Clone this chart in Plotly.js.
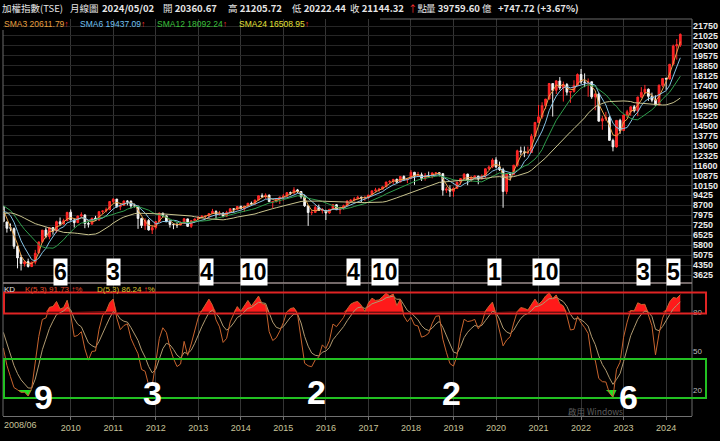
<!DOCTYPE html>
<html><head><meta charset="utf-8">
<script src="https://cdn.plot.ly/plotly-3.0.1.min.js"></script>
<style>html,body{margin:0;padding:0;background:#000;}#chart{width:720px;height:441px;}</style>
</head><body><div id="chart"></div>
<script>
// ---- Monthly TAIEX candles 2008/06 .. 2024/05 ----
const open = [
 8620,7480,7050,7000,5700,4900,4430,
 4600,4240,4560,5230,6050,6900,6420,7080,6820,7500,7330,7580,
 8200,7620,7440,7930,8000,7370,7330,7770,7620,8240,8290,8380,
 8980,9150,8600,8690,9010,8990,8650,8640,7740,7220,7590,6900,
 7080,7520,8120,7930,7500,7300,7290,7270,7390,7710,7170,7580,
 7710,7850,7900,7920,8100,8250,8060,8110,7910,8170,8450,8400,
 8620,8460,8640,8850,8790,9080,9400,9310,9440,8960,8980,9190,
 9300,9360,9620,9590,9820,9700,9320,8660,8170,8180,8550,8320,
 8330,8140,8410,8740,8370,8540,8670,9000,9070,9170,9290,9240,
 9260,9450,9760,9810,9880,10050,10400,10430,10590,10390,10800,10560,
 10660,11100,10820,10920,10650,10870,10830,11060,11070,11000,9800,9890,
 9720,9930,10390,10640,10970,10500,10730,10820,10620,10830,11360,11490,
 12000,11480,11290,9700,10990,10950,11620,12660,12590,12520,12540,13720,
 14730,15140,15950,16430,17560,17070,17750,17250,17490,16930,16990,17430,
 18220,17670,17650,17690,16590,16800,14830,15000,15090,13420,12950,14880,
 14140,15270,15500,15870,15580,16580,16920,17150,16630,16350,16000,17430,
 17930,17890,18970,20290,20361];
const high = [
 8656,7521,7376,7084,5773,5100,4700,
 4817,4600,5454,6050,6890,7084,7078,7102,7580,7811,7722,8188,
 8395,7700,7950,8190,8030,7575,7789,7930,8240,8316,8530,8973,
 9220,9164,8800,9050,9062,9060,8820,8650,7800,7750,7700,7230,
 7543,8180,8170,7960,7620,7390,7500,7530,7780,7730,7580,7740,
 7900,7978,7950,8100,8440,8340,8290,8210,8300,8470,8460,8650,
 8680,8660,8870,8970,9110,9400,9570,9570,9480,9000,9200,9307,
 9520,9660,9700,10014,9890,9720,9470,8700,8340,8700,8750,8500,
 8350,8430,8790,8790,8560,8750,9060,9140,9290,9400,9330,9390,
 9450,9770,9970,9970,10070,10400,10530,10620,10640,10800,10880,10650,
 11270,11130,11130,11080,11050,11150,11090,11100,11100,11050,10050,10150,
 10010,10410,10680,11030,11000,10820,10890,10850,10950,11370,11600,12120,
 12197,11880,11430,10997,11060,11640,12750,12970,12980,12970,13900,14760,
 16000,16200,16440,17600,17600,17800,18034,17700,17600,17000,17800,18300,
 18620,18300,17930,17700,16810,16900,15200,15500,15200,13550,14880,15000,
 15300,15650,15900,16000,16600,17300,17463,17200,16900,16700,17500,17950,
 18000,18980,20400,20800,21206];
const low = [
 7467,6710,6809,5530,4110,3955,4235,
 4164,4200,4400,5230,5970,6300,6225,6561,6690,7200,7312,7545,
 7600,7080,7400,7800,7032,7080,7290,7580,7600,8070,8180,8360,
 8830,8500,8350,8660,8700,8470,8540,6985,7042,6910,6856,6609,
 6944,7480,7850,7500,7076,6960,7050,7230,7340,7140,7050,7550,
 7680,7760,7740,7770,8080,7660,7960,7820,7860,8150,8170,8350,
 8420,8230,8580,8750,8780,9060,9270,9170,8940,8500,8900,8790,
 9030,9340,9450,9550,9600,9180,8580,7203,7990,8160,8290,8100,
 7627,8080,8370,8370,8053,8370,8640,8960,8990,9160,8900,9020,
 9160,9430,9680,9680,9860,10010,10330,10230,10320,10380,10480,10310,
 10650,10190,10750,10470,10500,10740,10660,10860,10800,9400,9600,9320,
 9319,9880,10190,10620,10160,10400,10700,10230,10600,10690,11270,11400,
 11400,11200,8523,9500,10500,10930,11500,12350,12200,12420,12540,13690,
 14730,15000,15700,16400,15160,16800,17100,16250,16700,16160,16900,17400,
 17530,17300,16600,16450,15616,14800,14200,14850,13400,12629,12900,13900,
 14100,15050,15220,15450,15190,16500,16800,16300,16200,15970,16000,17300,
 17100,17850,18900,19300,20222];
const close = [
 7523,7024,7046,5719,4870,4460,4591,
 4248,4557,5210,6033,6890,6432,7078,6826,7509,7340,7582,8188,
 7640,7436,7920,8004,7374,7329,7760,7616,8238,8287,8372,8973,
 9146,8600,8683,9008,8988,8653,8644,7741,7225,7588,6904,7072,
 7517,8121,7933,7501,7301,7296,7270,7397,7715,7166,7580,7699,
 7850,7897,7919,8093,8254,8062,8108,7914,8173,8450,8406,8612,
 8462,8640,8849,8792,9075,9393,9315,9436,8966,8974,9187,9307,
 9361,9622,9586,9820,9701,9323,8665,8174,8181,8554,8320,8338,
 8145,8411,8744,8377,8536,8667,9007,9068,9166,9290,9240,9254,
 9448,9750,9812,9872,10041,10395,10427,10586,10384,10794,10560,10643,
 11104,10815,10919,10658,10875,10837,11057,11063,11006,9802,9889,9727,
 9932,10389,10641,10968,10498,10731,10824,10618,10829,11358,11490,11997,
 11495,11292,9708,10993,10943,11621,12665,12592,12516,12546,13722,14733,
 15138,15953,16431,17567,17068,17755,17247,17490,16935,16987,17428,18219,
 17674,17652,17693,16593,16808,14826,15000,15095,13425,12950,14880,14138,
 15265,15504,15868,15580,16579,16916,17145,16634,16354,16001,17433,17931,
 17890,18966,20294,20397,21144];
// closes 2006/07 .. 2008/05 (moving-average history before the first bar)
const preClose = [6455,6611,6883,7021,7260,7823,7700,7902,7884,7875,8145,8883,
 9287,8982,9411,9711,8586,8506,7521,8413,8572,8920,8619];
// highs / lows 2008/02 .. 2008/05 (KD history before the first bar)
const preHigh = [8460,8700,9000,9309];
const preLow  = [7400,7960,8400,8580];

const priceTicks = [3625,4350,5075,5800,6525,7250,7975,8700,9425,10150,10875,11600,12325,
 13050,13775,14500,15225,15950,16675,17400,18125,18850,19575,20300,21025,21750];
const priceLabels = ['3625','4350','5075','5800','6525','7250','7975','8700','9425','10150','10875','11600','12325',
 '13050','13775','14500','15225','15950','16675','17400','18125','18850','19575','20300','21025','21750'];
const yearTickIdx = [19,31,43,55,67,79,91,103,115,127,139,151,163,175,187];
const yearLabels = ['2010','2011','2012','2013','2014','2015','2016','2017','2018','2019','2020','2021','2022','2023','2024'];
const kdTicks = [20,50,80];
const smaPeriods = [3,6,12,24];
const smaColors = ['#e8a048','#86c4e6','#2f9e4c','#c9c48e'];
const KD_N = 5;

// ---- derived series ----
const xi = close.map((_, i) => i);
const allClose = preClose.concat(close);
const off = preClose.length;
function sma(n){
  return close.map((_, i) => {
    const j = i + off; if (j - n + 1 < 0) return null;
    let s = 0; for (let k = j - n + 1; k <= j; k++) s += allClose[k];
    return s / n;
  });
}
const kdH = preHigh.concat(high), kdL = preLow.concat(low), kdC = preClose.slice(-preHigh.length).concat(close);
let K = 50, D = 50; const kArr = [], dArr = [];
for (let j = 0; j < kdC.length; j++){
  let hh = -Infinity, ll = Infinity;
  for (let k = Math.max(0, j - KD_N + 1); k <= j; k++){ hh = Math.max(hh, kdH[k]); ll = Math.min(ll, kdL[k]); }
  const rsv = hh > ll ? (kdC[j] - ll) / (hh - ll) * 100 : 50;
  K = K * 2/3 + rsv / 3; D = D * 2/3 + K / 3;
  if (j >= preHigh.length){ kArr.push(K); dArr.push(D); }
}

const traces = [];
traces.push({type:'candlestick', x:xi, open:open, high:high, low:low, close:close,
  xaxis:'x', yaxis:'y', whiskerwidth:0, hoverinfo:'skip',
  increasing:{line:{color:'#ff2a2a', width:1}, fillcolor:'#ff1e1e'},
  decreasing:{line:{color:'#f2f2f2', width:1}, fillcolor:'#ffffff'}});
smaPeriods.forEach((p, i) => traces.push({type:'scatter', mode:'lines', x:xi, y:sma(p),
  xaxis:'x', yaxis:'y', line:{color:smaColors[i], width:1}, hoverinfo:'skip'}));
traces.push({type:'scatter', mode:'lines', x:xi, y:xi.map(() => 80), xaxis:'x', yaxis:'y2', line:{width:0}, hoverinfo:'skip'});
traces.push({type:'scatter', mode:'lines', x:xi, y:kArr.map(v => Math.max(v, 80)), xaxis:'x', yaxis:'y2',
  line:{width:0}, fill:'tonexty', fillcolor:'#ff1a1a', hoverinfo:'skip'});
traces.push({type:'scatter', mode:'lines', x:xi, y:xi.map(() => 20), xaxis:'x', yaxis:'y2', line:{width:0}, hoverinfo:'skip'});
traces.push({type:'scatter', mode:'lines', x:xi, y:kArr.map(v => Math.min(v, 20)), xaxis:'x', yaxis:'y2',
  line:{width:0}, fill:'tonexty', fillcolor:'#22e022', hoverinfo:'skip'});
traces.push({type:'scatter', mode:'lines', x:xi, y:dArr, xaxis:'x', yaxis:'y2', line:{color:'#b09a70', width:1}, hoverinfo:'skip'});
traces.push({type:'scatter', mode:'lines', x:xi, y:kArr, xaxis:'x', yaxis:'y2', line:{color:'#c8642e', width:1}, hoverinfo:'skip'});

// pixel -> paper helpers (plot area: x 3..692, y 19..416)
const px = x => (x - 3) / 689;
const py = y => (416 - y) / 397;
const ann = [];
function t(x, y, text, color, size){
  ann.push({xref:'paper', yref:'paper', x:px(x), y:py(y), xanchor:'left', yanchor:'middle',
    text:text, showarrow:false, font:{family:'Noto Sans CJK TC, Liberation Sans', size:size, color:color}});
}
const HC = '#e6e6e6';
const upArrow = '<span style="color:#ff3030">↑</span>';
t(0, 8, '加權指數(TSE)', HC, 9.5);
t(68, 8, '月線圖', HC, 9.5);
t(100, 8, '<b>2024/05/02</b>', HC, 9.5);
t(161, 8, '開 <b>20360.67</b>', HC, 9.5);
t(226, 8, '高 <b>21205.72</b>', HC, 9.5);
t(290, 8, '低 <b>20222.44</b>', HC, 9.5);
t(348, 8, '收 <b>21144.32</b>', HC, 9.5);
t(406, 8, upArrow + '點', HC, 9.5);
t(424, 8, '量 <b>39759.60</b> 億', HC, 9.5);
t(496, 8, '<b>+747.72 (+3.67%)</b>', HC, 9.5);

const sf = 'Liberation Sans';
function s(x, text, color){ ann.push({xref:'paper', yref:'paper', x:px(x), y:py(24), xanchor:'left', yanchor:'middle',
  text:text, showarrow:false, font:{family:sf, size:8.5, color:color}}); }
s(2, 'SMA3 20611.79' + upArrow, '#e8a040');
s(78, 'SMA6 19437.09' + upArrow, '#72c2f2');
s(155, 'SMA12 18092.24' + upArrow, '#3cc03c');
s(237, 'SMA24 16508.95' + upArrow, '#e4e038');

function k(x, text, color){ ann.push({xref:'paper', yref:'paper', x:px(x), y:py(289), xanchor:'left', yanchor:'middle',
  text:text, showarrow:false, font:{family:sf, size:8, color:color}}); }
k(2, 'KD', '#e0e0e0');
k(23, 'K(5,3) 91.73 ' + upArrow + '%', '#e04c2c');
k(95, 'D(5,3) 86.24 ' + upArrow + '%', '#d8c030');

// passivation counts
const topCounts = ['6','3','4','10','4','10','1','10','3','5'];
const topX = [60,113.5,206,253.5,353.5,385,494,546,643.5,673];
topCounts.forEach((c, i) => ann.push({xref:'paper', yref:'paper', x:px(topX[i]), y:py(272), xanchor:'center', yanchor:'middle',
  text:'<b>'+c+'</b>', showarrow:false, bgcolor:'#ffffff', borderpad:0,
  font:{family:'Liberation Sans Narrow, Liberation Sans', size:23, color:'#000000'}}));
const lowCounts = ['9','3','2','2','6'];
const lowX = [43.5,152,316,452,628];
const lowY = [397,393,392,393,397];
lowCounts.forEach((c, i) => ann.push({xref:'paper', yref:'paper', x:px(lowX[i]), y:py(lowY[i]), xanchor:'center', yanchor:'middle',
  text:'<b>'+c+'</b>', showarrow:false, font:{family:'Liberation Sans', size:34, color:'#ffffff'}}));

ann.push({xref:'paper', yref:'paper', x:px(2), y:py(425), xanchor:'left', yanchor:'middle', text:'2008/06', showarrow:false,
  font:{family:sf, size:9, color:'#c8c49a'}});
ann.push({xref:'paper', yref:'paper', x:px(566), y:py(411), xanchor:'left', yanchor:'middle', text:'啟用 Windows', showarrow:false,
  font:{family:'Noto Sans CJK TC', size:8.5, color:'#5c5c5c'}});

const shapes = [
  {type:'line', xref:'paper', yref:'paper', x0:1, x1:1, y0:0, y1:1, line:{color:'#6a6a6a', width:1}},
  {type:'line', xref:'paper', yref:'paper', x0:0, x1:0, y0:0, y1:py(30), line:{color:'#6a6a6a', width:1}},
  {type:'line', xref:'paper', yref:'paper', x0:px(380), x1:1, y0:1, y1:1, line:{color:'#6a6a6a', width:1}},
  {type:'line', xref:'paper', yref:'paper', x0:0, x1:1, y0:py(283), y1:py(283), line:{color:'#9a8c8c', width:1.5}},
  {type:'rect', xref:'paper', yref:'paper', x0:px(4), x1:px(706), y0:py(313.5), y1:py(292.5), line:{color:'#e02424', width:2}},
  {type:'rect', xref:'paper', yref:'paper', x0:px(4), x1:px(706), y0:py(398), y1:py(359), line:{color:'#22c022', width:2}}
];

const layout = {
  width:720, height:441, margin:{l:3, r:28, t:19, b:25},
  paper_bgcolor:'#000000', plot_bgcolor:'#000000', showlegend:false,
  xaxis:{range:[-0.1,194.3], anchor:'y2', tickvals:yearTickIdx, ticktext:yearLabels,
    tickfont:{family:sf, size:9, color:'#c8c49a'}, showgrid:true, gridcolor:'#343434', gridwidth:1,
    zeroline:false, showline:true, linecolor:'#707070', ticks:'outside', ticklen:3, tickcolor:'#707070',
    rangeslider:{visible:false}, fixedrange:true},
  yaxis:{domain:[py(283),1], range:[3043,22260], side:'right', tickvals:priceTicks, ticktext:priceLabels,
    tickfont:{family:sf, size:9, color:'#ececec', weight:'bold'}, showgrid:true, gridcolor:'#262626',
    zeroline:false, showline:false, ticks:'', ticklabelstandoff:0, fixedrange:true},
  yaxis2:{domain:[0,py(284)], range:[0,101.25], side:'right', tickvals:kdTicks,
    tickfont:{family:sf, size:8, color:'#bdbdbd'}, showgrid:false, zeroline:false, showline:false, ticks:'', fixedrange:true},
  shapes:shapes, annotations:ann
};
Plotly.newPlot('chart', traces, layout, {displayModeBar:false, staticPlot:true});
</script></body></html>
